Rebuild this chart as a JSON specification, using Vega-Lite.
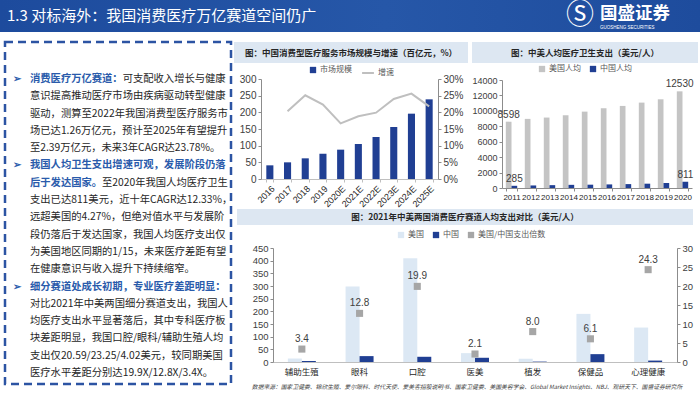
{
  "$schema": "https://vega.github.io/schema/vega-lite/v6.json",
  "background": "#ffffff",
  "padding": 0,
  "bounds": "flush",
  "spacing": 10,
  "resolve": {"scale": {"color": "independent", "xOffset": "independent"}, "legend": {"color": "independent"}},
  "config": {
    "view": {"stroke": null},
    "font": "Noto Sans CJK SC",
    "axis": {"labelFont": "Liberation Sans", "labelFontSize": 9.5, "labelColor": "#404040", "domainColor": "#8c8c8c", "tickColor": "#8c8c8c", "tickSize": 3, "grid": false, "labelPadding": 2},
    "legend": {"labelFont": "Noto Sans CJK SC", "labelFontSize": 8, "labelColor": "#595959", "title": null, "padding": 0, "symbolSize": 40, "labelOffset": 3, "columnPadding": 8, "direction": "horizontal", "orient": "none"}
  },
  "datasets": {
    "header": [
      {"slot": "title", "part": "title", "text": "1.3 对标海外：我国消费医疗万亿赛道空间仍广"},
      {"slot": "logo", "part": "icon", "text": "Ⓢ"},
      {"slot": "logo", "part": "name", "text": "国盛证券"},
      {"slot": "logo", "part": "en", "text": "GUOSHENG SECURITIES"}
    ],
    "left": [
      {"line": 1, "col": "mark", "tone": "heading", "text": "➢"},
      {"line": 1, "col": "text", "tone": "heading", "text": "消费医疗万亿赛道："},
      {"line": 1, "col": "text", "tone": "body", "text": "\u2060　　　　　　　　　可支配收入增长与健康"},
      {"line": 2, "col": "text", "tone": "body", "text": "意识提高推动医疗市场由疾病驱动转型健康"},
      {"line": 3, "col": "text", "tone": "body", "text": "驱动，测算至2022年我国消费型医疗服务市"},
      {"line": 4, "col": "text", "tone": "body", "text": "场已达1.26万亿元，预计至2025年有望提升"},
      {"line": 5, "col": "text", "tone": "body", "text": "至2.39万亿元，未来3年CAGR达23.78%。"},
      {"line": 6, "col": "mark", "tone": "heading", "text": "➢"},
      {"line": 6, "col": "text", "tone": "heading", "text": "我国人均卫生支出增速可观，发展阶段仍落"},
      {"line": 7, "col": "text", "tone": "heading", "text": "后于发达国家。"},
      {"line": 7, "col": "text", "tone": "body", "text": "\u2060　　　　　　　至2020年我国人均医疗卫生"},
      {"line": 8, "col": "text", "tone": "body", "text": "支出已达811美元，近十年CAGR达12.33%，"},
      {"line": 9, "col": "text", "tone": "body", "text": "远超美国的4.27%，但绝对值水平与发展阶"},
      {"line": 10, "col": "text", "tone": "body", "text": "段仍落后于发达国家，我国人均医疗支出仅"},
      {"line": 11, "col": "text", "tone": "body", "text": "为美国地区同期的1/15，未来医疗差距有望"},
      {"line": 12, "col": "text", "tone": "body", "text": "在健康意识与收入提升下持续缩窄。"},
      {"line": 13, "col": "mark", "tone": "heading", "text": "➢"},
      {"line": 13, "col": "text", "tone": "heading", "text": "细分赛道处成长初期，专业医疗差距明显："},
      {"line": 14, "col": "text", "tone": "body", "text": "对比2021年中美两国细分赛道支出，我国人"},
      {"line": 15, "col": "text", "tone": "body", "text": "均医疗支出水平显著落后，其中专科医疗板"},
      {"line": 16, "col": "text", "tone": "body", "text": "块差距明显，我国口腔/眼科/辅助生殖人均"},
      {"line": 17, "col": "text", "tone": "body", "text": "支出仅20.59/23.25/4.02美元，较同期美国"},
      {"line": 18, "col": "text", "tone": "body", "text": "医疗水平差距分别达19.9X/12.8X/3.4X。"}
    ],
    "c1": [
      {"year": "2016", "size": 41, "growth": null},
      {"year": "2017", "size": 50, "growth": 0.203},
      {"year": "2018", "size": 62, "growth": 0.251},
      {"year": "2019", "size": 76, "growth": 0.223},
      {"year": "2020E", "size": 88, "growth": 0.167},
      {"year": "2021E", "size": 105, "growth": 0.188},
      {"year": "2022E", "size": 126, "growth": 0.199},
      {"year": "2023E", "size": 156, "growth": 0.24},
      {"year": "2024E", "size": 196, "growth": 0.256},
      {"year": "2025E", "size": 239, "growth": 0.218}
    ],
    "c2": [
      {"year": "2011", "series": "美国人均", "value": 8598},
      {"year": "2012", "series": "美国人均", "value": 8960},
      {"year": "2013", "series": "美国人均", "value": 9130},
      {"year": "2014", "series": "美国人均", "value": 9430},
      {"year": "2015", "series": "美国人均", "value": 9900},
      {"year": "2016", "series": "美国人均", "value": 10340},
      {"year": "2017", "series": "美国人均", "value": 10640},
      {"year": "2018", "series": "美国人均", "value": 11070},
      {"year": "2019", "series": "美国人均", "value": 11500},
      {"year": "2020", "series": "美国人均", "value": 12530},
      {"year": "2011", "series": "中国人均", "value": 285},
      {"year": "2012", "series": "中国人均", "value": 330},
      {"year": "2013", "series": "中国人均", "value": 370},
      {"year": "2014", "series": "中国人均", "value": 410},
      {"year": "2015", "series": "中国人均", "value": 430},
      {"year": "2016", "series": "中国人均", "value": 465},
      {"year": "2017", "series": "中国人均", "value": 505},
      {"year": "2018", "series": "中国人均", "value": 560},
      {"year": "2019", "series": "中国人均", "value": 650},
      {"year": "2020", "series": "中国人均", "value": 811}
    ],
    "c3bars": [
      {"cat": "辅助生殖", "series": "美国", "value": 13.7},
      {"cat": "眼科", "series": "美国", "value": 297.6},
      {"cat": "口腔", "series": "美国", "value": 409.7},
      {"cat": "医美", "series": "美国", "value": 35},
      {"cat": "植发", "series": "美国", "value": 13},
      {"cat": "保健品", "series": "美国", "value": 190},
      {"cat": "心理健康", "series": "美国", "value": 136},
      {"cat": "辅助生殖", "series": "中国", "value": 4.02},
      {"cat": "眼科", "series": "中国", "value": 23.25},
      {"cat": "口腔", "series": "中国", "value": 20.59},
      {"cat": "医美", "series": "中国", "value": 16.7},
      {"cat": "植发", "series": "中国", "value": 1.6},
      {"cat": "保健品", "series": "中国", "value": 31},
      {"cat": "心理健康", "series": "中国", "value": 5.6}
    ],
    "c3ratio": [
      {"cat": "辅助生殖", "ratio": 3.4},
      {"cat": "眼科", "ratio": 12.8},
      {"cat": "口腔", "ratio": 19.9},
      {"cat": "医美", "ratio": 2.1},
      {"cat": "植发", "ratio": 8.0},
      {"cat": "保健品", "ratio": 6.1},
      {"cat": "心理健康", "ratio": 24.3}
    ]
  },
  "vconcat": [
    {
      "width": 700,
      "height": 32,
      "layer": [
        {
          "data": {"values": [{}]},
          "mark": {"type": "rect", "color": {"gradient": "linear", "x1": 0, "y1": 0, "x2": 1, "y2": 0, "stops": [{"offset": 0, "color": "#1d4b9d"}, {"offset": 0.55, "color": "#2657a8"}, {"offset": 1, "color": "#1e4c9d"}]}},
          "encoding": {}
        },
        {
          "data": {"name": "header"},
          "transform": [{"filter": "datum.part == 'title'"}],
          "mark": {"type": "text", "align": "left", "baseline": "middle", "fontSize": 15, "color": "#ffffff"},
          "encoding": {
            "x": {"field": "slot", "type": "nominal", "scale": {"type": "point", "domain": ["title", "logo"], "range": [7, 600], "padding": 0}, "axis": null},
            "text": {"field": "text"}
          }
        },
        {
          "data": {"name": "header"},
          "transform": [{"filter": "datum.part == 'name'"}],
          "mark": {"type": "text", "align": "left", "baseline": "middle", "fontSize": 17.5, "fontWeight": "bold", "color": "#ffffff", "dy": -2},
          "encoding": {"x": {"field": "slot", "type": "nominal"}, "text": {"field": "text"}}
        },
        {
          "data": {"name": "header"},
          "transform": [{"filter": "datum.part == 'en'"}],
          "mark": {"type": "text", "align": "left", "baseline": "middle", "fontSize": 4.5, "font": "Liberation Sans", "color": "#ffffff", "dy": 12},
          "encoding": {"x": {"field": "slot", "type": "nominal"}, "text": {"field": "text"}}
        },
        {
          "data": {"name": "header"},
          "transform": [{"filter": "datum.part == 'icon'"}],
          "mark": {"type": "text", "align": "center", "baseline": "middle", "fontSize": 28, "color": "#ffffff", "dx": -20},
          "encoding": {"x": {"field": "slot", "type": "nominal"}, "text": {"field": "text"}}
        }
      ]
    },
    {
      "hconcat": [
        {
          "hconcat": [
            {"width": 5, "height": 1, "data": {"values": []}, "mark": "point"},
            {
              "width": 226,
              "height": 342,
              "view": {"stroke": "#2c54a3", "strokeWidth": 2.5, "strokeDash": [8, 5]},
              "data": {"name": "left"},
              "layer": [
                {
                  "transform": [{"filter": "datum.tone == 'body'"}],
                  "mark": {"type": "text", "align": "left", "baseline": "middle", "fontSize": 10.3, "color": "#262626"},
                  "encoding": {
                    "x": {"field": "col", "type": "nominal", "scale": {"type": "point", "domain": ["mark", "text"], "range": [8, 25], "padding": 0}, "axis": null},
                    "y": {"field": "line", "type": "quantitative", "scale": {"domain": [1, 18], "range": [19.7, 331]}, "axis": null},
                    "text": {"field": "text"}
                  }
                },
                {
                  "transform": [{"filter": "datum.tone == 'heading'"}],
                  "mark": {"type": "text", "align": "left", "baseline": "middle", "fontSize": 10.3, "fontWeight": "bold", "color": "#2a5bab"},
                  "encoding": {
                    "x": {"field": "col", "type": "nominal"},
                    "y": {"field": "line", "type": "quantitative"},
                    "text": {"field": "text"}
                  }
                }
              ]
            }
          ],
          "spacing": 0,
          "bounds": "flush",
          "resolve": {"scale": {"color": "independent", "xOffset": "independent"}, "legend": {"color": "independent"}}
        },
        {
          "vconcat": [
            {
              "hconcat": [
                {
                  "vconcat": [
                    {
                      "width": 234,
                      "height": 21,
                      "view": {"fill": "#dde7f2"},
                      "data": {"values": [{"t": "图：中国消费型医疗服务市场规模与增速（百亿元，%）"}]},
                      "mark": {"type": "text", "fontSize": 8.5, "fontWeight": "bold", "color": "#262626", "baseline": "middle"},
                      "encoding": {"text": {"field": "t"}}
                    },
                    {
                      "hconcat": [
                        {"width": 27, "height": 1, "data": {"values": []}, "mark": "point"},
                        {
                          "width": 177,
                          "height": 100,
                          "data": {"name": "c1"},
                          "layer": [
                            {
                              "mark": {"type": "bar"},
                              "encoding": {
                                "x": {"field": "year", "type": "ordinal", "title": null, "scale": {"paddingInner": 0.6, "paddingOuter": 0.3}, "axis": {"labelAngle": -45, "tickBand": "extent", "labelFontSize": 9, "labelColor": "#262626", "domainColor": "#bfbfbf", "tickColor": "#bfbfbf"}},
                                "y": {"field": "size", "type": "quantitative", "title": null, "scale": {"domain": [0, 300]}, "axis": {"values": [0, 50, 100, 150, 200, 250, 300], "labelFontSize": 10}},
                                "color": {"datum": "市场规模", "type": "nominal", "scale": {"range": ["#203f93"]}, "legend": {"legendX": 48, "legendY": -13, "symbolType": "square"}}
                              }
                            },
                            {
                              "transform": [{"filter": "datum.growth != null"}],
                              "mark": {"type": "line", "strokeWidth": 2},
                              "encoding": {
                                "x": {"field": "year", "type": "ordinal", "title": null},
                                "y": {"field": "growth", "type": "quantitative", "title": null, "scale": {"domain": [0, 0.3]}, "axis": {"orient": "right", "format": ".0%", "values": [0, 0.05, 0.1, 0.15, 0.2, 0.25, 0.3], "labelFontSize": 10}},
                                "color": {"datum": "增速", "type": "nominal", "scale": {"range": ["#bfbfbf"]}, "legend": {"legendX": 100, "legendY": -13, "symbolType": "stroke", "symbolStrokeWidth": 2, "symbolSize": 140}}
                              }
                            }
                          ],
                          "resolve": {"scale": {"y": "independent", "color": "independent"}}
                        }
                      ],
                      "spacing": 0,
                      "bounds": "flush",
                      "resolve": {"scale": {"color": "independent", "xOffset": "independent"}, "legend": {"color": "independent"}}
                    }
                  ],
                  "spacing": 16,
                  "bounds": "flush",
                  "resolve": {"scale": {"color": "independent", "xOffset": "independent"}, "legend": {"color": "independent"}}
                },
                {
                  "vconcat": [
                    {
                      "width": 226,
                      "height": 21,
                      "view": {"fill": "#dde7f2"},
                      "data": {"values": [{"t": "图：中美人均医疗卫生支出（美元/人）"}]},
                      "mark": {"type": "text", "fontSize": 8.5, "fontWeight": "bold", "color": "#262626", "baseline": "middle"},
                      "encoding": {"text": {"field": "t"}}
                    },
                    {
                      "hconcat": [
                        {"width": 30, "height": 1, "data": {"values": []}, "mark": "point"},
                        {
                          "width": 190,
                          "height": 108,
                          "data": {"name": "c2"},
                          "encoding": {
                            "x": {"field": "year", "type": "ordinal", "title": null, "scale": {"paddingInner": 0.4, "paddingOuter": 0.2}, "axis": {"labelAngle": 0, "tickBand": "extent", "labelFontSize": 8, "labelColor": "#262626"}},
                            "xOffset": {"field": "series", "type": "nominal", "scale": {"domain": ["美国人均", "中国人均"], "paddingInner": 0}},
                            "y": {"field": "value", "type": "quantitative", "title": null, "scale": {"domain": [0, 14000]}, "axis": {"values": [0, 2000, 4000, 6000, 8000, 10000, 12000, 14000], "format": "d", "labelFontSize": 9}}
                          },
                          "layer": [
                            {
                              "mark": "bar",
                              "encoding": {
                                "color": {"field": "series", "type": "nominal", "scale": {"domain": ["美国人均", "中国人均"], "range": ["#c4c4c4", "#203f93"]}, "legend": {"legendX": 36, "legendY": -15, "symbolType": "square"}}
                              }
                            },
                            {
                              "transform": [{"filter": "datum.year == '2011' || datum.year == '2020'"}],
                              "mark": {"type": "text", "baseline": "bottom", "dy": -2, "fontSize": 10, "font": "Liberation Sans", "color": "#404040"},
                              "encoding": {"text": {"field": "value", "type": "quantitative", "format": "d"}}
                            }
                          ]
                        }
                      ],
                      "spacing": 0,
                      "bounds": "flush",
                      "resolve": {"scale": {"color": "independent", "xOffset": "independent"}, "legend": {"color": "independent"}}
                    }
                  ],
                  "spacing": 17,
                  "bounds": "flush",
                  "resolve": {"scale": {"color": "independent", "xOffset": "independent"}, "legend": {"color": "independent"}}
                }
              ],
              "spacing": 238,
              "bounds": "flush",
              "resolve": {"scale": {"color": "independent", "xOffset": "independent"}, "legend": {"color": "independent"}}
            },
            {
              "hconcat": [
                {"width": 3, "height": 1, "data": {"values": []}, "mark": "point"},
                {
                  "vconcat": [
                    {
                      "width": 456,
                      "height": 16,
                      "view": {"fill": "#dde7f2"},
                      "data": {"values": [{"t": "图：2021年中美两国消费医疗赛道人均支出对比（美元/人）"}]},
                      "mark": {"type": "text", "fontSize": 8.5, "fontWeight": "bold", "color": "#262626", "baseline": "middle"},
                      "encoding": {"text": {"field": "t"}}
                    },
                    {
                      "hconcat": [
                        {"width": 36, "height": 1, "data": {"values": []}, "mark": "point"},
                        {
                          "width": 404,
                          "height": 114,
                          "title": {"text": "数据来源：国家卫健委、锦欣生殖、爱尔眼科、时代天使、爱美客招股说明书、国家卫健委、美国美容学会、Global Market Insights、NBJ、观研天下、国盛证券研究所", "orient": "bottom", "anchor": "middle", "frame": "group", "fontSize": 5.8, "fontStyle": "italic", "fontWeight": "normal", "color": "#404040", "offset": 8, "dx": -8},
                          "layer": [
                            {
                              "data": {"name": "c3bars"},
                              "mark": "bar",
                              "encoding": {
                                "x": {"field": "cat", "type": "nominal", "title": null, "scale": {"domain": ["辅助生殖", "眼科", "口腔", "医美", "植发", "保健品", "心理健康"], "paddingInner": 0.515, "paddingOuter": 0.2575}, "axis": {"labelAngle": 0, "ticks": false, "labelFont": "Noto Sans CJK SC", "labelFontSize": 8.5, "labelColor": "#262626", "labelPadding": 5, "domainColor": "#bfbfbf"}},
                                "xOffset": {"field": "series", "type": "nominal", "scale": {"domain": ["美国", "中国"]}},
                                "y": {"field": "value", "type": "quantitative", "title": null, "scale": {"domain": [0, 450]}, "axis": {"values": [0, 50, 100, 150, 200, 250, 300, 350, 400, 450]}},
                                "color": {"field": "series", "type": "nominal", "scale": {"domain": ["美国", "中国", "美国/中国支出倍数"], "range": ["#dce8f4", "#203f93", "#a6a6a6"]}, "legend": {"legendX": 124, "legendY": -17, "symbolType": "square"}}
                              }
                            },
                            {
                              "data": {"name": "c3ratio"},
                              "encoding": {
                                "x": {"field": "cat", "type": "nominal", "title": null, "scale": {"domain": ["辅助生殖", "眼科", "口腔", "医美", "植发", "保健品", "心理健康"]}},
                                "y": {"field": "ratio", "type": "quantitative", "title": null, "scale": {"domain": [0, 30]}, "axis": {"orient": "right", "values": [0, 5, 10, 15, 20, 25, 30]}}
                              },
                              "layer": [
                                {"mark": {"type": "point", "shape": "square", "filled": true, "size": 50, "opacity": 1}, "encoding": {"color": {"datum": "美国/中国支出倍数", "type": "nominal"}}},
                                {"mark": {"type": "text", "baseline": "bottom", "dy": -5, "fontSize": 10, "font": "Liberation Sans", "color": "#404040"}, "encoding": {"text": {"field": "ratio", "type": "quantitative", "format": ".1f"}}}
                              ]
                            }
                          ],
                          "resolve": {"scale": {"y": "independent"}}
                        }
                      ],
                      "spacing": 0,
                      "bounds": "flush",
                      "resolve": {"scale": {"color": "independent", "xOffset": "independent"}, "legend": {"color": "independent"}}
                    }
                  ],
                  "spacing": 23,
                  "bounds": "flush",
                  "resolve": {"scale": {"color": "independent", "xOffset": "independent"}, "legend": {"color": "independent"}}
                }
              ],
              "spacing": 0,
              "bounds": "flush",
              "resolve": {"scale": {"color": "independent", "xOffset": "independent"}, "legend": {"color": "independent"}}
            }
          ],
          "spacing": 167,
          "bounds": "flush",
          "resolve": {"scale": {"color": "independent", "xOffset": "independent"}, "legend": {"color": "independent"}}
        }
      ],
      "spacing": 234,
      "bounds": "flush",
      "resolve": {"scale": {"color": "independent", "xOffset": "independent"}, "legend": {"color": "independent"}}
    }
  ]
}
